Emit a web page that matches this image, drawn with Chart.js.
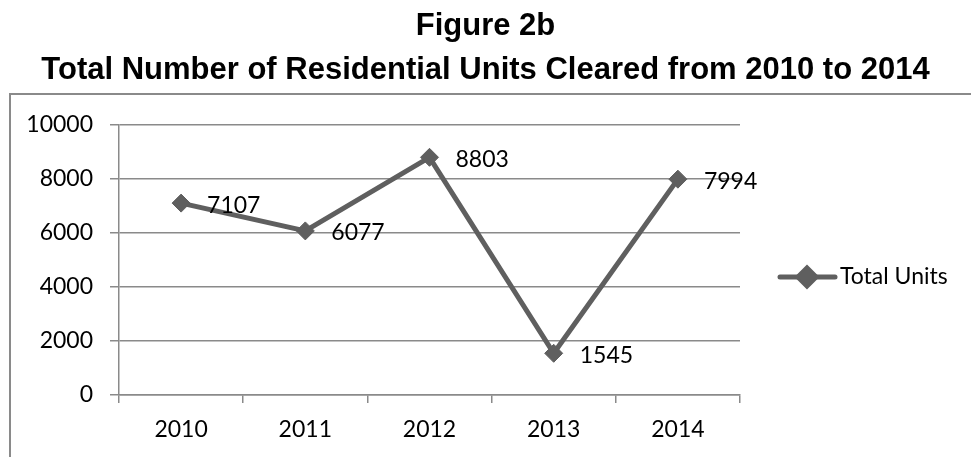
<!DOCTYPE html>
<html>
<head>
<meta charset="utf-8">
<script src="https://cdn.jsdelivr.net/npm/chart.js@4/dist/chart.umd.min.js"></script>
<style>
  html, body { margin: 0; padding: 0; background: #ffffff; }
  #wrap { width: 971px; height: 457px; position: relative; }
</style>
</head>
<body>
<div id="wrap"><canvas id="c" width="971" height="457"></canvas></div>
<script>
const titleLine1 = "Figure 2b";
const titleLine2 = "Total Number of Residential Units Cleared from 2010 to 2014";
const categories = ["2010", "2011", "2012", "2013", "2014"];
const totalUnits = [7107, 6077, 8803, 1545, 7994];
const seriesName = "Total Units";
const yTicks = [0, 2000, 4000, 6000, 8000, 10000];

const LINE_COLOR = "#5f5f5f";
const GRID_COLOR = "#8a8a8a";
const LABEL_FONT = "Lato, 'Open Sans', sans-serif";

const frameBox = {
  id: "frameBox",
  beforeDraw(chart) {
    const ctx = chart.ctx;
    ctx.save();
    ctx.fillStyle = "#ffffff";
    ctx.fillRect(0, 0, chart.width, chart.height);
    ctx.strokeStyle = GRID_COLOR;
    ctx.lineWidth = 2;
    ctx.strokeRect(10, 94, chart.width + 20, chart.height + 20);
    ctx.restore();
  }
};

const valueLabels = {
  id: "valueLabels",
  afterDatasetsDraw(chart) {
    const ctx = chart.ctx;
    const meta = chart.getDatasetMeta(0);
    const data = chart.data.datasets[0].data;
    ctx.save();
    ctx.font = "23px " + LABEL_FONT;
    ctx.fillStyle = "#000000";
    ctx.textAlign = "left";
    ctx.textBaseline = "middle";
    meta.data.forEach((pt, i) => {
      ctx.fillText(String(data[i]), pt.x + 26, pt.y + 2);
    });
    ctx.restore();
  }
};

const lineLegend = {
  id: "lineLegend",
  afterDraw(chart) {
    const ctx = chart.ctx;
    const area = chart.chartArea;
    const ds = chart.data.datasets[0];
    const x0 = area.right + 40;
    const y = (area.top + area.bottom) / 2 + 17;
    ctx.save();
    ctx.strokeStyle = ds.borderColor;
    ctx.lineWidth = ds.borderWidth;
    ctx.lineCap = "round";
    ctx.beginPath();
    ctx.moveTo(x0, y);
    ctx.lineTo(x0 + 55, y);
    ctx.stroke();
    Chart.helpers.drawPoint(ctx, {
      pointStyle: "rectRot", radius: 9, borderWidth: 1, rotation: 0
    }, x0 + 27, y);
    ctx.fillStyle = ds.pointBackgroundColor;
    ctx.fill();
    ctx.font = "23px " + LABEL_FONT;
    ctx.fillStyle = "#000000";
    ctx.textAlign = "left";
    ctx.textBaseline = "middle";
    ctx.fillText(ds.label, x0 + 60, y);
    ctx.restore();
  }
};

new Chart(document.getElementById("c"), {
  type: "line",
  data: {
    labels: categories,
    datasets: [{
      label: seriesName,
      data: totalUnits,
      borderColor: LINE_COLOR,
      backgroundColor: LINE_COLOR,
      borderWidth: 5,
      pointStyle: "rectRot",
      pointRadius: 9,
      pointHoverRadius: 9,
      pointBackgroundColor: LINE_COLOR,
      pointBorderColor: LINE_COLOR,
      pointBorderWidth: 1,
      tension: 0,
      fill: false,
      clip: false,
      yAxisID: "y"
    }]
  },
  options: {
    responsive: false,
    animation: false,
    events: [],
    layout: { padding: { left: 0, right: 0, top: 0, bottom: 0 } },
    plugins: {
      legend: { display: false },
      tooltip: { enabled: false },
      title: {
        display: true,
        text: titleLine1,
        color: "#000000",
        font: { family: "'Liberation Sans', Arial, sans-serif", size: 31, weight: "bold", lineHeight: "36px" },
        padding: { top: 8, bottom: 8 }
      },
      subtitle: {
        display: true,
        text: titleLine2,
        color: "#000000",
        font: { family: "'Liberation Sans', Arial, sans-serif", size: 31, weight: "bold", lineHeight: "36px" },
        padding: { top: 0, bottom: 37 }
      }
    },
    scales: {
      x: {
        type: "category",
        offset: true,
        afterFit(scale) { scale.height = 62; },
        grid: {
          display: true,
          offset: true,
          drawOnChartArea: false,
          drawTicks: true,
          tickLength: 8,
          color: GRID_COLOR,
          lineWidth: 1.5
        },
        border: { display: true, color: GRID_COLOR, width: 1.5 },
        ticks: {
          color: "#000000",
          font: { family: LABEL_FONT, size: 23 },
          padding: 13,
          maxRotation: 0
        }
      },
      y: {
        min: 0,
        max: 10000,
        afterFit(scale) { scale.width = 119; },
        afterBuildTicks(scale) { scale.ticks = yTicks.map(v => ({ value: v })); },
        grid: {
          color: GRID_COLOR,
          lineWidth: 1.5,
          drawTicks: true,
          tickLength: 9
        },
        border: { display: true, color: GRID_COLOR, width: 1.5 },
        ticks: {
          color: "#000000",
          font: { family: LABEL_FONT, size: 23 },
          padding: 17,
          callback: (v) => String(v)
        }
      },
      legendSpace: {
        type: "linear",
        position: "right",
        display: true,
        afterFit(scale) { scale.width = 231; },
        grid: { display: false, drawTicks: false },
        border: { display: false },
        ticks: { display: false }
      }
    }
  },
  plugins: [frameBox, valueLabels, lineLegend]
});
</script>
</body>
</html>
